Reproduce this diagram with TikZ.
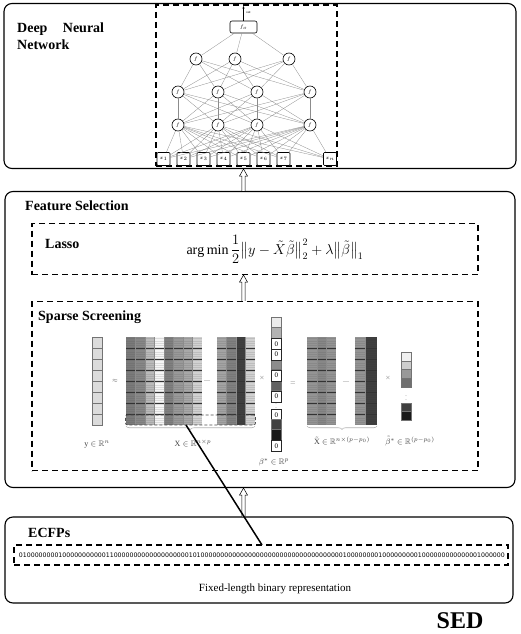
\documentclass[tikz,border=0pt]{standalone}
\usepackage{amsmath,amssymb}
\usepackage{graphicx}
\usepackage{fontspec}
\setmainfont{Liberation Serif}
\newfontfamily\binfont{DejaVu Sans}
\usetikzlibrary{calc,decorations.pathreplacing,arrows.meta}
\tikzset{
  bigbox/.style={draw, rounded corners=8pt, line width=1.1pt, inner sep=0pt},
  dashbox/.style={draw, dash pattern=on 6pt off 4pt, line width=1.1pt, inner sep=0pt},
  neuron/.style={draw, circle, fill=white, line width=0.6pt, minimum size=12pt, inner sep=0pt, font=\fontsize{5}{5}\selectfont},
  inbox/.style={draw, rounded corners=1pt, fill=white, line width=0.6pt, minimum size=13pt, inner sep=0pt, font=\fontsize{4.5}{5}\selectfont},
  wire/.style={draw=black!45, line width=0.3pt},
  titletext/.style={font=\bfseries\fontsize{14}{17}\selectfont, inner sep=0pt},
  smalllab/.style={font=\fontsize{8}{9}\selectfont, inner sep=0pt, text=black!75},
  opsign/.style={font=\fontsize{6}{6}\selectfont, inner sep=0pt, text=black!60},
  brc/.style={draw=black!30, line width=0.6pt, decorate, decoration={brace, mirror, amplitude=3.5pt}},
  cellb/.style={draw=black!55, line width=0.4pt},
  zcell/.style={draw=black!85, line width=0.5pt, fill=white},
  thickline/.style={line width=1.5pt}
}
\newcommand\openarrow[2]{%
  \draw[line width=0.5pt, fill=white]
    ($(#1)+(-1.6,0)$) -- ($(#2)+(-1.6,7)$) -- ($(#2)+(-4,7)$) -- (#2)
    -- ($(#2)+(4,7)$) -- ($(#2)+(1.6,7)$) -- ($(#1)+(1.6,0)$);}
\newcommand\mhatch[2]{% x1, x2
  \foreach \yy in {338.5,340.7,...,424.5} \draw[black!70, opacity=0.15, line width=0.35pt] (#1,\yy) -- (#2,\yy);
  \foreach \yy in {348,359,370,381,392,403,414} \draw[black!80, line width=0.5pt] (#1,\yy) -- (#2,\yy);
}
\begin{document}
\begin{tikzpicture}[x=1pt,y=-1pt]
\useasboundingbox (0,0) rectangle (520,634);

% ---------------- Deep Neural Network ----------------
\node[bigbox, minimum width=512pt, minimum height=165pt] (dnn) at (260,86) {};
\node[dashbox, minimum width=181pt, minimum height=161pt] (dnnin) at (246.5,85.5) {};
\node[titletext, anchor=north west, align=left] (tdnn) at (17,23) {Deep\hspace{1.1em}Neural\\Network};

\node[draw, rounded corners=2pt, fill=white, line width=0.6pt, minimum width=27pt, minimum height=12pt, inner sep=0pt, font=\fontsize{5}{5}\selectfont] (fo) at (243.5,27) {$f_o$};
\coordinate (outtop) at (243.5,6);
\draw[line width=0.5pt, -{Stealth[length=2.5pt,width=2pt]}] (fo) -- (outtop);
\node[font=\fontsize{3.5}{4}\selectfont, inner sep=0pt, anchor=west] (outl) at (246,13) {out};

\foreach \i/\x in {1/196,2/235,3/289} \node[neuron] (h1\i) at (\x,59) {$f$};
\foreach \i/\x in {1/178,2/218,3/257,4/310} \node[neuron] (h2\i) at (\x,92) {$f$};
\foreach \i/\x in {1/178,2/218,3/257,4/310} \node[neuron] (h3\i) at (\x,125) {$f$};
\foreach \i/\x/\l in {1/163.5/1,2/183.5/2,3/203.5/3,4/223.5/4,5/243.5/5,6/263.5/6,7/283.5/7,8/330/n}
  \node[inbox] (in\i) at (\x,159) {$x_{\l}$};

\foreach \a in {1,2,3} \draw[wire] (fo) -- (h1\a);
\foreach \a in {1,2,3} \foreach \b in {1,2,3,4} \draw[wire] (h1\a) -- (h2\b);
\foreach \a in {1,2,3,4} \foreach \b in {1,2,3,4} \draw[wire] (h2\a) -- (h3\b);
\foreach \a in {1,2,3,4} \foreach \b in {1,...,8} \draw[wire] (h3\a) -- (in\b);

% ---------------- Feature Selection ----------------
\node[bigbox, minimum width=510pt, minimum height=296pt] (fs) at (260,339.5) {};
\node[titletext, anchor=base west] (tfs) at (25,210.5) {Feature Selection};

\node[dashbox, minimum width=446pt, minimum height=51pt] (lasso) at (255,249) {};
\node[titletext, anchor=base west] (tlasso) at (45,248) {Lasso};
\node[inner sep=0pt, anchor=base, font=\fontsize{14}{16}\selectfont] (formula) at (275,254)
  {$\arg\min\dfrac{1}{2}\bigl\| y-\tilde{X}\tilde{\beta}\bigr\|_2^2+\lambda\bigl\|\tilde{\beta}\bigr\|_1$};

\node[dashbox, minimum width=446pt, minimum height=169pt] (ss) at (255,386) {};
\node[titletext, anchor=base west] (tss) at (38,320) {Sparse Screening};

% y vector
\foreach \k in {0,...,7} \draw[cellb, fill=black!14] (92,{337+\k*11}) rectangle ++(10,11);
\node[smalllab, anchor=base] (ylab) at (97,446) {$\mathrm{y}\in\mathbb{R}^n$};
\node[opsign] (approx) at (115,381) {$\approx$};

% X matrix part 1
\foreach \c [count=\k from 0] in {black!52,black!47,black!27,black!4,black!50,black!40,black!34,black!18}
  \fill[\c] ({126+\k*9.5},337) rectangle ++(9.5,88);
\mhatch{126}{202}
\foreach \k in {1,...,7} \draw[black!45, line width=0.4pt] ({126+\k*9.5},337) -- ++(0,88);
% X matrix part 2
\foreach \c [count=\k from 0] in {black!36,black!50,black!76,black!18}
  \fill[\c] ({216.5+\k*9.6},337) rectangle ++(9.6,88);
\mhatch{216.5}{255}
\foreach \k in {1,2,3} \draw[black!45, line width=0.4pt] ({216.5+\k*9.6},337) -- ++(0,88);
\node[opsign] (xdots) at (207,382) {---};
\node[draw=black!70, dash pattern=on 3pt off 2pt, line width=0.7pt, rounded corners=2pt, minimum width=130pt, minimum height=10pt, inner sep=0pt] (xrow) at (190.5,420) {};
\draw[brc] (126,426) -- (255,426);
\node[smalllab, anchor=base] (xlab) at (193,446) {$\mathrm{X}\in\mathbb{R}^{n\times p}$};

\node[opsign] (times1) at (262,378) {$\times$};

% beta* vector
\foreach \k/\c in {0/black!8,1/black!30,4/black!45,6/black!62}
  \draw[cellb, fill=\c] (271,{317+\k*10.5}) rectangle ++(10,10.5);
\foreach \k in {2,3,5,7}
  \node[zcell, minimum width=10pt, minimum height=10.5pt, font=\fontsize{7}{7}\selectfont, anchor=north west] (bz\k) at (271,{317+\k*10.5}) {0};
\node[opsign] (bvd) at (276,405) {$\vdots$};
\node[zcell, minimum width=10pt, minimum height=10.3pt, font=\fontsize{7}{7}\selectfont, anchor=north west] (bzl1) at (271,409) {0};
\draw[cellb, fill=black!75] (271,419.3) rectangle ++(10,10.3);
\draw[cellb, fill=black!90] (271,429.6) rectangle ++(10,10.3);
\node[zcell, minimum width=10pt, minimum height=10.3pt, font=\fontsize{7}{7}\selectfont, anchor=north west] (bzl2) at (271,439.9) {0};
\node[smalllab, anchor=base] (blab) at (274,464) {$\beta^{*}\in\mathbb{R}^{p}$};

\node[opsign] (eq) at (293,383) {$=$};

% X tilde
\foreach \c [count=\k from 0] in {black!42,black!47,black!42}
  \fill[\c] ({307+\k*9.7},337) rectangle ++(9.7,88);
\mhatch{307}{336.1}
\foreach \k in {1,2} \draw[black!45, line width=0.4pt] ({307+\k*9.7},337) -- ++(0,88);
\foreach \c [count=\k from 0] in {black!42,black!76}
  \fill[\c] ({354.5+\k*11},337) rectangle ++(11,88);
\mhatch{354.5}{376.5}
\draw[black!45, line width=0.4pt] (365.5,337) -- ++(0,88);
\node[opsign] (xtdots) at (346,383) {---};
\draw[brc] (307,426) -- (377,426);
\node[smalllab, anchor=base] (xtlab) at (342,444) {$\tilde{\mathrm{X}}\in\mathbb{R}^{n\times(p-p_0)}$};

\node[opsign] (times2) at (388,378) {$\times$};

% beta tilde
\foreach \k/\c in {0/black!6,1/black!20,2/black!40,3/black!56}
  \draw[cellb, fill=\c] (401,{352+\k*8.7}) rectangle ++(10,8.7);
\node[opsign] (btvd) at (406,397) {$\vdots$};
\draw[cellb, fill=black!75] (401,403) rectangle ++(10,8.5);
\draw[cellb, fill=black!90] (401,411.5) rectangle ++(10,8.5);
\node[smalllab, anchor=base] (btlab) at (410,444) {$\tilde{\beta}^{*}\in\mathbb{R}^{(p-p_0)}$};

% ---------------- ECFPs ----------------
\node[bigbox, minimum width=508pt, minimum height=86pt] (ecfp) at (259,560) {};
\node[titletext, anchor=base west] (tecfp) at (28,537) {ECFPs};
\node[dashbox, minimum width=494pt, minimum height=20pt] (bin) at (261,555) {};
\node[inner sep=0pt] (bits) at (262,555.5) {\resizebox{486pt}{!}{\fontsize{7}{8}\binfont 010000000010000000000011000000000000000000010100000000000000000000000000000000000010000000010000000001000000000000001000000}};
\node[inner sep=0pt, anchor=base, font=\fontsize{11}{13}\selectfont] (fixed) at (275,591) {Fixed-length binary representation};

% ---------------- arrows ----------------
\coordinate (a1s) at (fs.north -| fo);
\coordinate (a1e) at (dnn.south -| fo);
\openarrow{a1s}{a1e}
\coordinate (a2s) at (ss.north -| fo);
\coordinate (a2e) at (lasso.south -| fo);
\openarrow{a2s}{a2e}
\coordinate (a3s) at (ecfp.north -| fo);
\coordinate (a3e) at (fs.south -| fo);
\openarrow{a3s}{a3e}

% zoom line
\coordinate (ls) at (186,425);
\coordinate (le) at (262,545);
\draw[thickline] (ls) -- (le);

\node[inner sep=0pt, anchor=base, font=\bfseries\fontsize{24}{26}\selectfont] (sed) at (460,628) {SED};
\end{tikzpicture}
\end{document}
